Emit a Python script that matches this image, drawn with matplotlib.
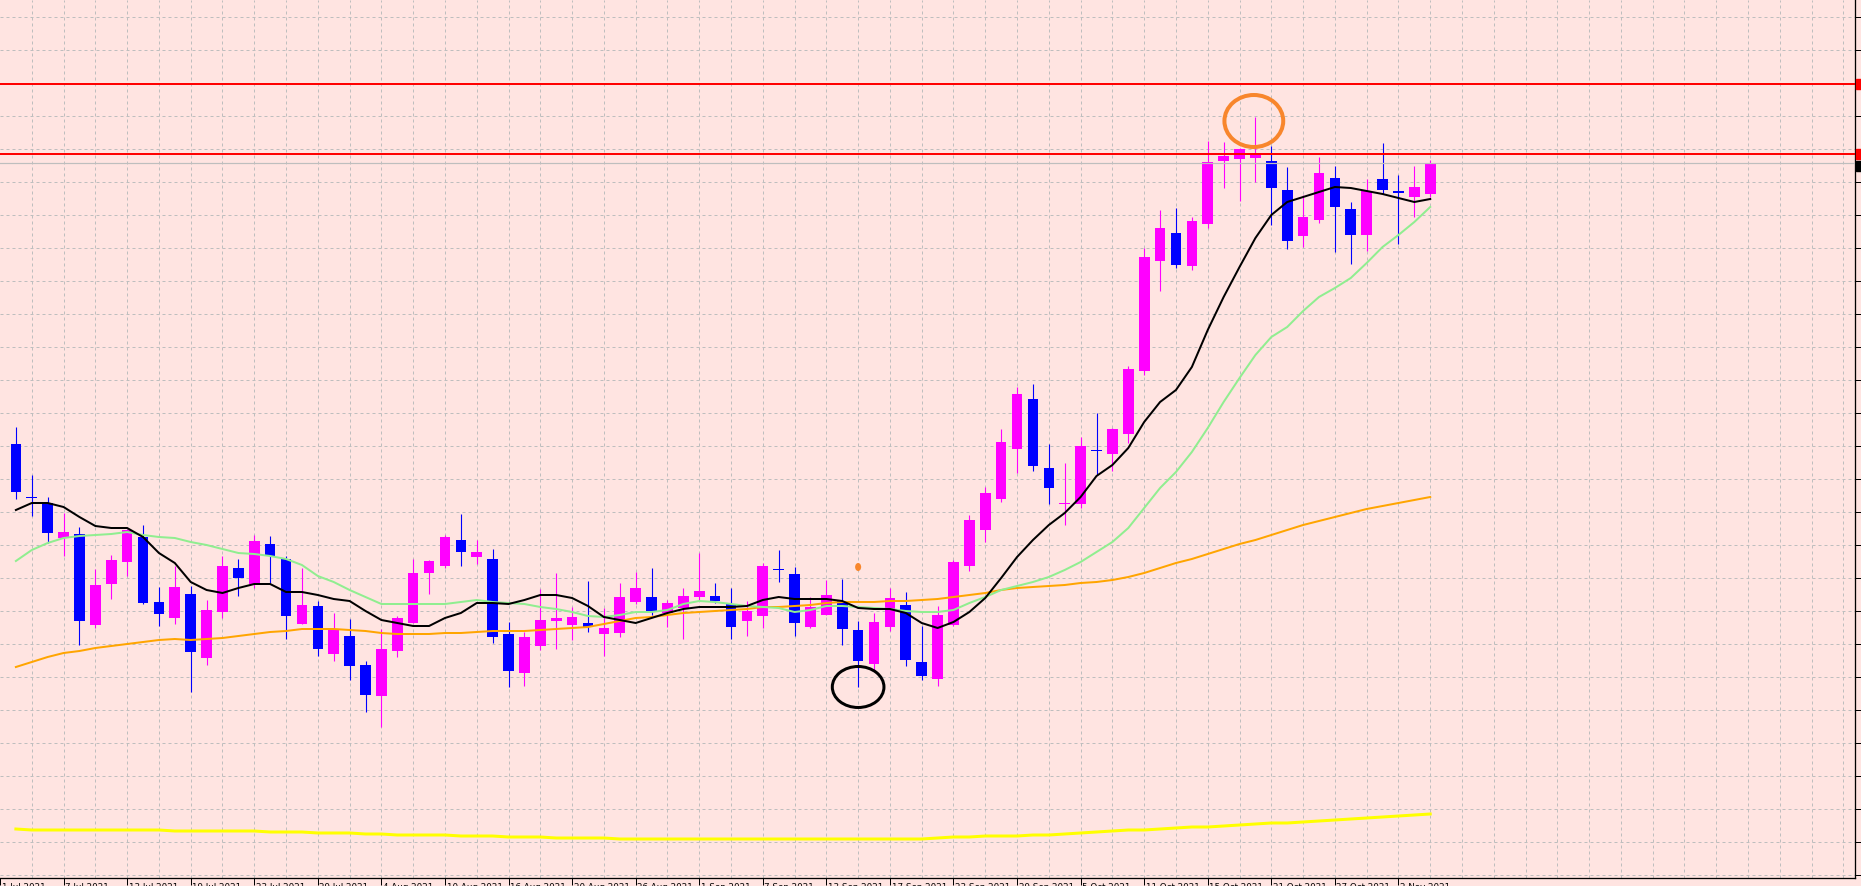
import matplotlib
matplotlib.use("Agg")
import matplotlib.pyplot as plt
from matplotlib.patches import Ellipse, Rectangle
from matplotlib.transforms import blended_transform_factory

# Daily USDJPY candles, 2 Jul - 4 Nov 2021
opens = [111.56, 111.03, 110.97, 110.62, 110.66, 109.75, 110.16, 110.38, 110.63, 109.98,
         109.82, 110.06, 109.42, 109.88, 110.32, 110.16, 110.56, 110.41, 109.76, 109.94,
         109.46, 109.64, 109.35, 109.04, 109.49, 109.77, 110.27, 110.34, 110.60, 110.43,
         110.41, 109.66, 109.27, 109.54, 109.79, 109.75, 109.77, 109.66, 109.67, 109.98,
         110.03, 109.87, 109.92, 110.03, 110.04, 109.96, 109.79, 109.84, 110.31, 110.26,
         109.73, 109.85, 109.99, 109.70, 109.36, 109.73, 109.95, 109.38, 109.21, 109.75,
         110.34, 110.70, 111.01, 111.51, 112.01, 111.32, 110.96, 110.96, 111.50, 111.46,
         111.66, 112.29, 113.39, 113.67, 113.34, 113.76, 114.39, 114.41, 114.42, 114.39,
         114.10, 113.64, 113.80, 114.22, 113.91, 113.65, 114.21, 114.09, 114.03, 114.06]
highs = [111.73, 111.25, 111.03, 110.87, 110.73, 110.31, 110.45, 110.71, 110.75, 110.13,
         110.34, 110.14, 110.00, 110.44, 110.41, 110.65, 110.64, 110.44, 110.32, 109.99,
         109.87, 109.81, 109.39, 109.71, 109.84, 110.41, 110.40, 110.65, 110.86, 110.60,
         110.51, 109.78, 109.68, 110.11, 110.27, 109.93, 110.19, 109.92, 110.17, 110.28,
         110.32, 110.00, 110.12, 110.47, 110.17, 110.12, 109.99, 110.37, 110.50, 110.33,
         110.03, 110.20, 110.21, 109.79, 109.87, 110.12, 110.08, 109.74, 109.94, 110.40,
         110.85, 111.13, 111.71, 112.13, 112.16, 111.56, 111.37, 111.63, 111.87, 111.72,
         112.34, 113.52, 113.90, 113.92, 113.83, 114.59, 114.58, 114.52, 114.83, 114.54,
         114.33, 114.05, 114.43, 114.34, 113.98, 114.21, 114.57, 114.25, 114.34, 114.40]
lows = [111.01, 110.84, 110.57, 110.44, 109.55, 109.72, 110.01, 110.24, 109.96, 109.74,
        109.76, 109.08, 109.35, 109.82, 110.04, 110.12, 110.17, 109.61, 109.76, 109.44,
        109.39, 109.20, 108.88, 108.73, 109.43, 109.77, 110.06, 110.32, 110.34, 110.36,
        109.57, 109.13, 109.14, 109.50, 109.51, 109.60, 109.68, 109.44, 109.63, 109.96,
        109.85, 109.73, 109.61, 110.00, 109.97, 109.61, 109.64, 109.72, 110.18, 109.64,
        109.72, 109.85, 109.55, 109.13, 109.30, 109.69, 109.34, 109.20, 109.14, 109.74,
        110.29, 110.58, 110.98, 111.27, 111.29, 110.96, 110.75, 110.92, 111.25, 111.29,
        111.57, 112.25, 113.09, 113.32, 113.30, 113.72, 114.12, 113.99, 114.18, 113.75,
        113.51, 113.53, 113.77, 113.48, 113.36, 113.49, 114.06, 113.56, 113.83, 114.03]
closes = [111.08, 111.02, 110.67, 110.68, 109.79, 110.15, 110.40, 110.70, 109.97, 109.86,
          110.13, 109.48, 109.90, 110.34, 110.22, 110.59, 110.44, 109.84, 109.95, 109.51,
          109.70, 109.34, 109.05, 109.51, 109.82, 110.27, 110.39, 110.63, 110.48, 110.48,
          109.63, 109.29, 109.63, 109.80, 109.82, 109.83, 109.73, 109.72, 110.03, 110.12,
          109.88, 109.97, 110.04, 110.09, 109.99, 109.73, 109.89, 110.34, 110.30, 109.77,
          109.93, 110.05, 109.71, 109.39, 109.78, 110.02, 109.40, 109.24, 109.85, 110.38,
          110.80, 111.07, 111.58, 112.06, 111.34, 111.12, 110.97, 111.54, 111.49, 111.71,
          112.31, 113.43, 113.72, 113.35, 113.79, 114.38, 114.44, 114.51, 114.46, 114.12,
          113.59, 113.83, 114.27, 113.93, 113.65, 114.09, 114.10, 114.07, 114.13, 114.37]

# moving averages as drawn on the chart
ma_black = [110.90, 110.97, 110.97, 110.93, 110.83, 110.74, 110.72, 110.72, 110.63, 110.47,
            110.37, 110.18, 110.10, 110.07, 110.12, 110.16, 110.16, 110.08, 110.08, 110.05,
            110.01, 109.99, 109.89, 109.80, 109.77, 109.74, 109.74, 109.82, 109.87, 109.97,
            109.97, 109.96, 110.00, 110.05, 110.05, 110.02, 109.94, 109.83, 109.80, 109.77,
            109.82, 109.87, 109.91, 109.93, 109.93, 109.93, 109.94, 110.00, 110.03, 110.01,
            110.01, 110.01, 109.99, 109.92, 109.91, 109.91, 109.87, 109.77, 109.72, 109.78,
            109.88, 110.02, 110.22, 110.43, 110.60, 110.75, 110.87, 111.03, 111.24, 111.35,
            111.52, 111.78, 111.98, 112.10, 112.33, 112.70, 113.03, 113.33, 113.62, 113.85,
            113.98, 114.03, 114.08, 114.13, 114.12, 114.09, 114.06, 114.02, 113.98, 114.01]
ma_green = [110.39, 110.50, 110.57, 110.62, 110.64, 110.65, 110.66, 110.68, 110.65, 110.63,
            110.62, 110.58, 110.55, 110.51, 110.47, 110.46, 110.44, 110.41, 110.35, 110.24,
            110.18, 110.10, 110.03, 109.96, 109.96, 109.96, 109.96, 109.96, 109.98, 110.00,
            109.98, 109.97, 109.96, 109.93, 109.91, 109.88, 109.84, 109.83, 109.85, 109.88,
            109.88, 109.90, 109.96, 109.99, 109.98, 109.96, 109.94, 109.93, 109.92, 109.88,
            109.90, 109.94, 109.94, 109.93, 109.92, 109.91, 109.89, 109.88, 109.88, 109.90,
            109.97, 110.03, 110.10, 110.14, 110.18, 110.23, 110.30, 110.38, 110.48, 110.58,
            110.72, 110.92, 111.12, 111.28, 111.48, 111.72, 111.98, 112.22, 112.45, 112.63,
            112.73, 112.89, 113.03, 113.12, 113.22, 113.37, 113.53, 113.65, 113.78, 113.93]
ma_orange = [109.33, 109.38, 109.43, 109.47, 109.49, 109.52, 109.54, 109.56, 109.58, 109.60,
             109.61, 109.60, 109.61, 109.62, 109.64, 109.66, 109.68, 109.69, 109.71, 109.71,
             109.71, 109.70, 109.69, 109.67, 109.66, 109.66, 109.66, 109.67, 109.67, 109.68,
             109.69, 109.69, 109.69, 109.70, 109.71, 109.72, 109.73, 109.76, 109.79, 109.82,
             109.83, 109.85, 109.87, 109.88, 109.89, 109.90, 109.91, 109.93, 109.93, 109.94,
             109.95, 109.97, 109.98, 109.98, 109.98, 109.99, 109.99, 110.00, 110.01, 110.03,
             110.05, 110.07, 110.10, 110.12, 110.13, 110.14, 110.15, 110.17, 110.18, 110.20,
             110.23, 110.27, 110.32, 110.37, 110.41, 110.46, 110.51, 110.56, 110.60, 110.65,
             110.70, 110.75, 110.79, 110.83, 110.87, 110.91, 110.94, 110.97, 111.00, 111.03]
ma_yellow = [107.71, 107.70, 107.70, 107.70, 107.70, 107.70, 107.70, 107.70, 107.70, 107.70,
             107.69, 107.69, 107.69, 107.69, 107.69, 107.69, 107.68, 107.68, 107.68, 107.67,
             107.67, 107.67, 107.66, 107.66, 107.65, 107.65, 107.65, 107.65, 107.64, 107.64,
             107.64, 107.63, 107.63, 107.63, 107.62, 107.62, 107.62, 107.62, 107.61, 107.61,
             107.61, 107.61, 107.61, 107.61, 107.61, 107.61, 107.61, 107.61, 107.61, 107.61,
             107.61, 107.61, 107.61, 107.61, 107.61, 107.61, 107.61, 107.61, 107.62, 107.63,
             107.63, 107.64, 107.64, 107.64, 107.65, 107.65, 107.66, 107.67, 107.68, 107.69,
             107.70, 107.70, 107.71, 107.72, 107.73, 107.73, 107.74, 107.75, 107.76, 107.77,
             107.77, 107.78, 107.79, 107.80, 107.81, 107.82, 107.83, 107.84, 107.85, 107.86]

# date labels on the time axis (bar index, text)
date_pos = [-1, 3, 7, 11, 15, 19, 23, 27, 31, 35, 39, 43, 47, 51, 55, 59, 63, 67, 71, 75, 79, 83, 87]
date_txt = ["1 Jul 2021", "7 Jul 2021", "13 Jul 2021", "19 Jul 2021", "23 Jul 2021", "29 Jul 2021",
            "4 Aug 2021", "10 Aug 2021", "16 Aug 2021", "20 Aug 2021", "26 Aug 2021", "1 Sep 2021",
            "7 Sep 2021", "13 Sep 2021", "17 Sep 2021", "23 Sep 2021", "29 Sep 2021", "5 Oct 2021",
            "11 Oct 2021", "15 Oct 2021", "21 Oct 2021", "27 Oct 2021", "2 Nov 2021"]

# horizontal levels
red_levels = [115.16, 114.46]
last_price = closes[-1]

BG = "#FFE4E1"
BULL = "#FF00FF"
BEAR = "#0000FF"
GRID = "#BEBEBE"

W, H = 1861, 886
px = 0.72  # one pixel in points at dpi 100

fig = plt.figure(figsize=(W / 100, H / 100), dpi=100)
fig.patch.set_facecolor(BG)
ax = fig.add_axes([0, 8 / H, 1855 / W, 878 / H])
ax.set_facecolor(BG)

ax.set_xlim(-0.206, 115.73)
ax.set_ylim(107.22, 116.0)

# dashed grid
for k in range(27):
    ax.axhline(115.827 - 0.33 * k, color=GRID, lw=px, dashes=(3, 3), zorder=0)
for g in range(1, 116, 2):
    ax.axvline(g, color=GRID, lw=px, dashes=(3, 3), zorder=0)

# candles
xs = list(range(len(opens)))
cols = [BULL if c > o else BEAR for o, c in zip(opens, closes)]
ax.vlines(xs, lows, highs, colors=cols, lw=px * 1.1, zorder=2)
bottoms = [min(o, c) for o, c in zip(opens, closes)]
heights = [max(abs(c - o), 0.012) for o, c in zip(opens, closes)]
ax.bar(xs, heights, bottom=bottoms, width=0.67, color=cols, lw=0, zorder=3)

# moving averages
ax.plot(xs, ma_yellow, color="#FFFF00", lw=3 * px, zorder=4)
ax.plot(xs, ma_orange, color="#FFA500", lw=2 * px, zorder=4)
ax.plot(xs, ma_green, color="#90EE90", lw=2 * px, zorder=4)
ax.plot(xs, ma_black, color="black", lw=2 * px, zorder=5)

# price lines
ax.axhline(last_price, color=GRID, lw=px * 1.2, zorder=5)
for lv in red_levels:
    ax.axhline(lv, color="red", lw=2 * px, zorder=6)

# hand-drawn marks
ax.add_patch(Ellipse((77.9, 114.79), 3.7, 0.52, fill=False, ec="#F8862C", lw=4 * px, zorder=7))
ax.add_patch(Ellipse((53.0, 109.13), 3.25, 0.41, fill=False, ec="black", lw=3 * px, zorder=7))
ax.add_patch(Ellipse((53.0, 110.33), 0.38, 0.08, color="#F8862C", lw=0, zorder=7))

# price markers on the right scale
tr = blended_transform_factory(ax.transAxes, ax.transData)
for lv in red_levels:
    ax.add_patch(Rectangle((1 + 1 / 1855, lv - 0.05), 6 / 1855, 0.1, transform=tr,
                           color="red", clip_on=False, zorder=8))
ax.add_patch(Rectangle((1 + 1 / 1855, last_price - 0.075), 6 / 1855, 0.1, transform=tr,
                       color="black", clip_on=False, zorder=8))

# axes frame
for s in ["top", "left"]:
    ax.spines[s].set_visible(False)
ax.spines["bottom"].set_linewidth(1.3 * px)
ax.spines["right"].set_linewidth(1.3 * px)
ax.yaxis.tick_right()
ax.set_yticks([115.827 - 0.33 * k for k in range(27)])
ax.set_yticklabels([])
ax.tick_params(axis="y", direction="out", length=4, width=px)
ax.set_xticks(date_pos)
ax.set_xticklabels([])
ax.tick_params(axis="x", direction="out", length=5, width=px)

# date labels, cut off by the bottom edge
trx = blended_transform_factory(ax.transData, ax.transAxes)
for p, t in zip(date_pos, date_txt):
    ax.text(p + 0.1, -4.5 / 878, t, transform=trx, ha="left", va="top",
            fontsize=6.3, family="DejaVu Sans", color="black", clip_on=False)

fig.savefig("out.png", dpi=100, facecolor=BG)
